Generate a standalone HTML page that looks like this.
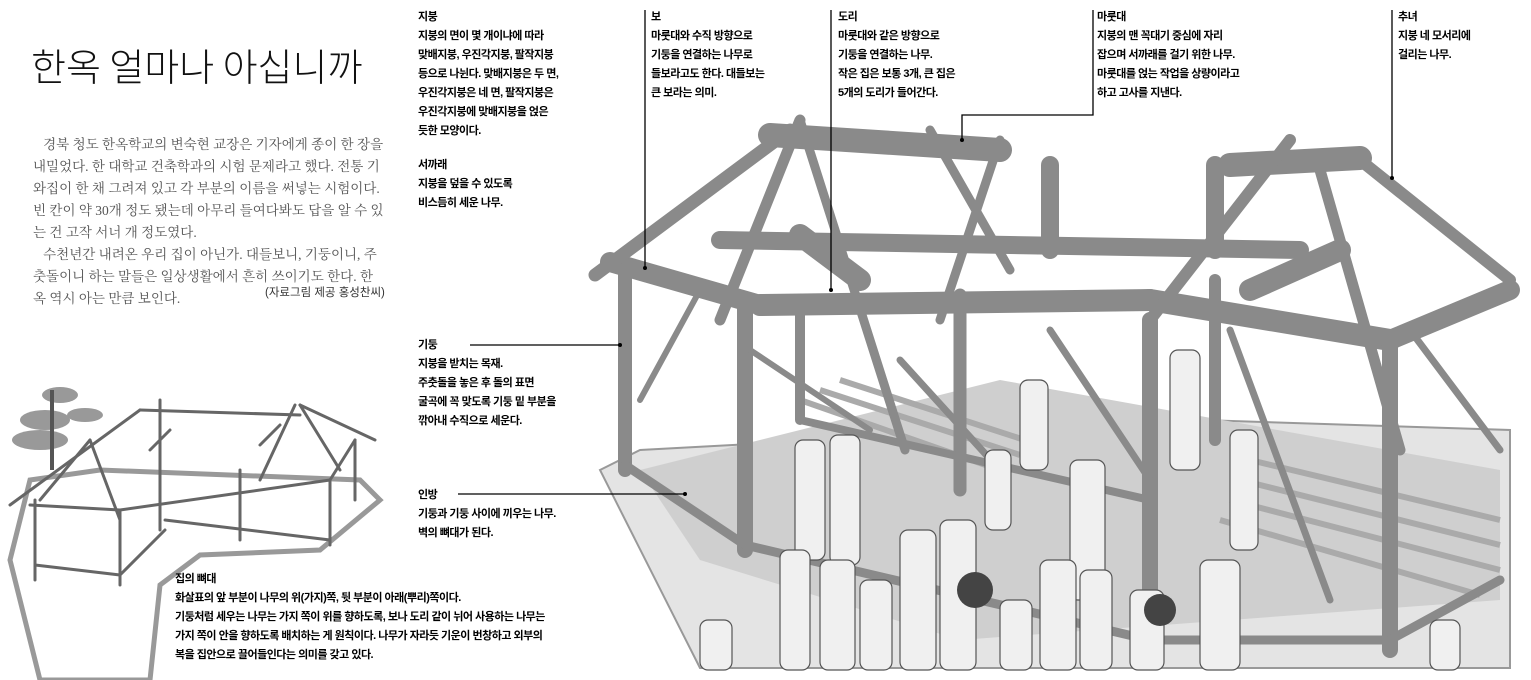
<!DOCTYPE html>
<html><head><meta charset="utf-8"><style>
body{margin:0;width:1531px;height:680px;background:#fff;position:relative;overflow:hidden;font-family:"Liberation Sans","Noto Sans CJK KR",sans-serif;}
.t{position:absolute;white-space:nowrap;}
.lab{position:absolute;font-size:11px;font-weight:bold;line-height:19px;color:#000;white-space:nowrap;letter-spacing:-0.5px;}
.body{position:absolute;left:33px;font-size:13.5px;color:#555;line-height:22px;white-space:nowrap;font-family:"Liberation Serif","Noto Serif CJK SC","Noto Sans CJK KR",serif;}
svg{position:absolute;left:0;top:0;}
</style></head><body>
<svg width="1531" height="680" viewBox="0 0 1531 680">
<polygon points="600,470 640,450 1200,420 1510,430 1510,668 700,668" fill="#e4e4e4" stroke="#999" stroke-width="2"/>
<polygon points="640,470 1000,380 1500,470 1500,600 960,640 700,560" fill="#cfcfcf"/>
<g stroke="#aaa" stroke-width="6">
<line x1="800" y1="400" x2="1000" y2="470"/><line x1="820" y1="390" x2="1020" y2="455"/><line x1="840" y1="380" x2="1040" y2="445"/><line x1="1250" y1="460" x2="1500" y2="520"/><line x1="1240" y1="480" x2="1500" y2="545"/><line x1="1230" y1="500" x2="1500" y2="570"/><line x1="1220" y1="520" x2="1480" y2="595"/>
</g>
<g stroke="#8a8a8a" stroke-linecap="round" fill="none">
<line x1="625" y1="265" x2="625" y2="470" stroke-width="14"/>
<line x1="745" y1="300" x2="745" y2="550" stroke-width="16"/>
<line x1="800" y1="300" x2="800" y2="420" stroke-width="10"/>
<line x1="960" y1="295" x2="960" y2="490" stroke-width="13"/>
<line x1="1150" y1="320" x2="1150" y2="650" stroke-width="16"/>
<line x1="1390" y1="340" x2="1390" y2="650" stroke-width="16"/>
<line x1="1215" y1="280" x2="1215" y2="440" stroke-width="12"/>
<line x1="625" y1="465" x2="745" y2="545" stroke-width="9"/>
<line x1="745" y1="545" x2="1150" y2="640" stroke-width="9"/>
<line x1="1150" y1="640" x2="1390" y2="640" stroke-width="9"/>
<line x1="1390" y1="640" x2="1500" y2="580" stroke-width="9"/>
<line x1="800" y1="420" x2="1150" y2="500" stroke-width="8"/>
<line x1="610" y1="262" x2="760" y2="305" stroke-width="20"/>
<line x1="760" y1="305" x2="1150" y2="300" stroke-width="22"/>
<line x1="1150" y1="300" x2="1390" y2="340" stroke-width="22"/>
<line x1="1390" y1="340" x2="1510" y2="290" stroke-width="20"/>
<line x1="720" y1="240" x2="1300" y2="250" stroke-width="18"/>
<line x1="800" y1="235" x2="860" y2="280" stroke-width="22"/>
<line x1="1250" y1="290" x2="1340" y2="250" stroke-width="22"/>
<line x1="770" y1="135" x2="1000" y2="150" stroke-width="24"/>
<line x1="1230" y1="165" x2="1360" y2="158" stroke-width="24"/>
<line x1="1050" y1="165" x2="1050" y2="250" stroke-width="18"/>
<line x1="1215" y1="165" x2="1215" y2="250" stroke-width="18"/>
<line x1="595" y1="275" x2="790" y2="130" stroke-width="13"/>
<line x1="720" y1="320" x2="800" y2="120" stroke-width="11"/>
<line x1="800" y1="120" x2="905" y2="450" stroke-width="9"/>
<line x1="930" y1="130" x2="1010" y2="270" stroke-width="9"/>
<line x1="1000" y1="140" x2="940" y2="320" stroke-width="9"/>
<line x1="1150" y1="320" x2="1290" y2="140" stroke-width="12"/>
<line x1="1320" y1="170" x2="1400" y2="450" stroke-width="11"/>
<line x1="1360" y1="160" x2="1510" y2="280" stroke-width="12"/>
<line x1="1050" y1="330" x2="1150" y2="480" stroke-width="7"/>
<line x1="900" y1="360" x2="1000" y2="470" stroke-width="7"/>
<line x1="1410" y1="330" x2="1500" y2="450" stroke-width="7"/>
<line x1="640" y1="400" x2="700" y2="290" stroke-width="6"/>
<line x1="750" y1="350" x2="870" y2="430" stroke-width="6"/>
<line x1="1230" y1="330" x2="1330" y2="600" stroke-width="7"/>
</g>
<g fill="#f0f0f0" stroke="#555" stroke-width="1.2">
<rect x="795" y="440" width="30" height="120" rx="8"/><rect x="830" y="435" width="30" height="130" rx="8"/>
<rect x="1020" y="380" width="28" height="90" rx="8"/><rect x="1170" y="350" width="30" height="120" rx="8"/>
<rect x="1230" y="430" width="28" height="120" rx="8"/><rect x="1070" y="460" width="35" height="140" rx="8"/>
<rect x="900" y="530" width="36" height="140" rx="8"/><rect x="940" y="520" width="36" height="150" rx="8"/>
<rect x="780" y="550" width="30" height="120" rx="8"/><rect x="820" y="560" width="35" height="110" rx="8"/>
<rect x="860" y="580" width="32" height="90" rx="8"/><rect x="1000" y="600" width="32" height="70" rx="8"/>
<rect x="1040" y="560" width="36" height="110" rx="8"/><rect x="1080" y="570" width="32" height="100" rx="8"/>
<rect x="1130" y="590" width="34" height="80" rx="8"/><rect x="1200" y="560" width="40" height="110" rx="8"/>
<rect x="700" y="620" width="32" height="50" rx="8"/><rect x="1430" y="620" width="30" height="50" rx="8"/>
<rect x="985" y="450" width="26" height="80" rx="8"/>
</g>
<g fill="#444"><circle cx="975" cy="590" r="18"/><circle cx="1160" cy="610" r="16"/></g>
<polygon points="10,560 30,480 100,470 360,480 380,500 320,550 200,555 160,585 150,680 40,680" fill="none" stroke="#999" stroke-width="5"/>
<g stroke="#666" stroke-width="3" fill="none" stroke-linecap="round">
<line x1="35" y1="500" x2="35" y2="580"/><line x1="120" y1="510" x2="120" y2="585"/><line x1="160" y1="400" x2="160" y2="530"/>
<line x1="240" y1="470" x2="240" y2="540"/><line x1="330" y1="480" x2="330" y2="545"/><line x1="355" y1="440" x2="355" y2="500"/>
<line x1="10" y1="505" x2="140" y2="410"/><line x1="140" y1="410" x2="300" y2="415"/><line x1="300" y1="405" x2="375" y2="440"/>
<line x1="30" y1="505" x2="120" y2="510"/><line x1="120" y1="510" x2="330" y2="480"/><line x1="330" y1="480" x2="355" y2="440"/>
<line x1="90" y1="440" x2="120" y2="520"/><line x1="90" y1="440" x2="40" y2="500"/><line x1="295" y1="405" x2="260" y2="480"/><line x1="300" y1="405" x2="340" y2="470"/>
<line x1="35" y1="565" x2="120" y2="575"/><line x1="120" y1="575" x2="165" y2="530"/><line x1="165" y1="520" x2="330" y2="540"/>
<line x1="150" y1="450" x2="170" y2="430"/><line x1="260" y1="445" x2="280" y2="425"/>
</g>
<g fill="#999"><ellipse cx="45" cy="420" rx="25" ry="10"/><ellipse cx="40" cy="440" rx="28" ry="10"/><ellipse cx="60" cy="395" rx="18" ry="8"/><ellipse cx="85" cy="415" rx="18" ry="7"/></g>
<line x1="52" y1="390" x2="52" y2="470" stroke="#555" stroke-width="4"/>
<g stroke="#000" stroke-width="1.3" fill="none">
<polyline points="645,10 645,268"/>
<polyline points="831,10 831,290"/>
<polyline points="1093,10 1093,115 962,115 962,140"/>
<polyline points="1392,10 1392,178"/>
<polyline points="470,345 620,345"/>
<polyline points="458,494 685,494"/>
</g>
<g fill="#000"><circle cx="645" cy="268" r="2"/><circle cx="831" cy="290" r="2"/><circle cx="962" cy="140" r="2"/><circle cx="1392" cy="178" r="2"/><circle cx="620" cy="345" r="2"/><circle cx="685" cy="494" r="2"/></g>
</svg>

<div class="t" style="left:31px;top:37px;font-size:38px;letter-spacing:0px;font-family:'Noto Sans CJK KR',sans-serif;font-weight:300;color:#111;">한옥 얼마나 아십니까</div>

<div class="body" style="top:134px;">&nbsp;&nbsp;&nbsp;경북 청도 한옥학교의 변숙현 교장은 기자에게 종이 한 장을</div>
<div class="body" style="top:156px;">내밀었다. 한 대학교 건축학과의 시험 문제라고 했다. 전통 기</div>
<div class="body" style="top:178px;">와집이 한 채 그려져 있고 각 부분의 이름을 써넣는 시험이다.</div>
<div class="body" style="top:200px;">빈 칸이 약 30개 정도 됐는데 아무리 들여다봐도 답을 알 수 있</div>
<div class="body" style="top:222px;">는 건 고작 서너 개 정도였다.</div>
<div class="body" style="top:244px;">&nbsp;&nbsp;&nbsp;수천년간 내려온 우리 집이 아닌가. 대들보니, 기둥이니, 주</div>
<div class="body" style="top:266px;">춧돌이니 하는 말들은 일상생활에서 흔히 쓰이기도 한다. 한</div>
<div class="body" style="top:288px;">옥 역시 아는 만큼 보인다.</div>
<div class="t" style="left:265px;top:284px;font-size:11.5px;color:#333;">(자료그림 제공 홍성찬씨)</div>

<div class="lab" style="left:418px;top:8px;">지붕<br>지붕의 면이 몇 개이냐에 따라<br>맞배지붕, 우진각지붕, 팔작지붕<br>등으로 나뉜다. 맞배지붕은 두 면,<br>우진각지붕은 네 면, 팔작지붕은<br>우진각지붕에 맞배지붕을 얹은<br>듯한 모양이다.</div>
<div class="lab" style="left:418px;top:156px;">서까래<br>지붕을 덮을 수 있도록<br>비스듬히 세운 나무.</div>
<div class="lab" style="left:651px;top:8px;">보<br>마룻대와 수직 방향으로<br>기둥을 연결하는 나무로<br>들보라고도 한다. 대들보는<br>큰 보라는 의미.</div>
<div class="lab" style="left:838px;top:8px;">도리<br>마룻대와 같은 방향으로<br>기둥을 연결하는 나무.<br>작은 집은 보통 3개, 큰 집은<br>5개의 도리가 들어간다.</div>
<div class="lab" style="left:1097px;top:8px;">마룻대<br>지붕의 맨 꼭대기 중심에 자리<br>잡으며 서까래를 걸기 위한 나무.<br>마룻대를 얹는 작업을 상량이라고<br>하고 고사를 지낸다.</div>
<div class="lab" style="left:1398px;top:8px;">추녀<br>지붕 네 모서리에<br>걸리는 나무.</div>
<div class="lab" style="left:418px;top:336px;">기둥<br>지붕을 받치는 목재.<br>주춧돌을 놓은 후 돌의 표면<br>굴곡에 꼭 맞도록 기둥 밑 부분을<br>깎아내 수직으로 세운다.</div>
<div class="lab" style="left:418px;top:486px;">인방<br>기둥과 기둥 사이에 끼우는 나무.<br>벽의 뼈대가 된다.</div>
<div class="lab" style="left:175px;top:570px;">집의 뼈대<br>화살표의 앞 부분이 나무의 위(가지)쪽, 뒷 부분이 아래(뿌리)쪽이다.<br>기둥처럼 세우는 나무는 가지 쪽이 위를 향하도록, 보나 도리 같이 뉘어 사용하는 나무는<br>가지 쪽이 안을 향하도록 배치하는 게 원칙이다. 나무가 자라듯 기운이 번창하고 외부의<br>복을 집안으로 끌어들인다는 의미를 갖고 있다.</div>
</body></html>
